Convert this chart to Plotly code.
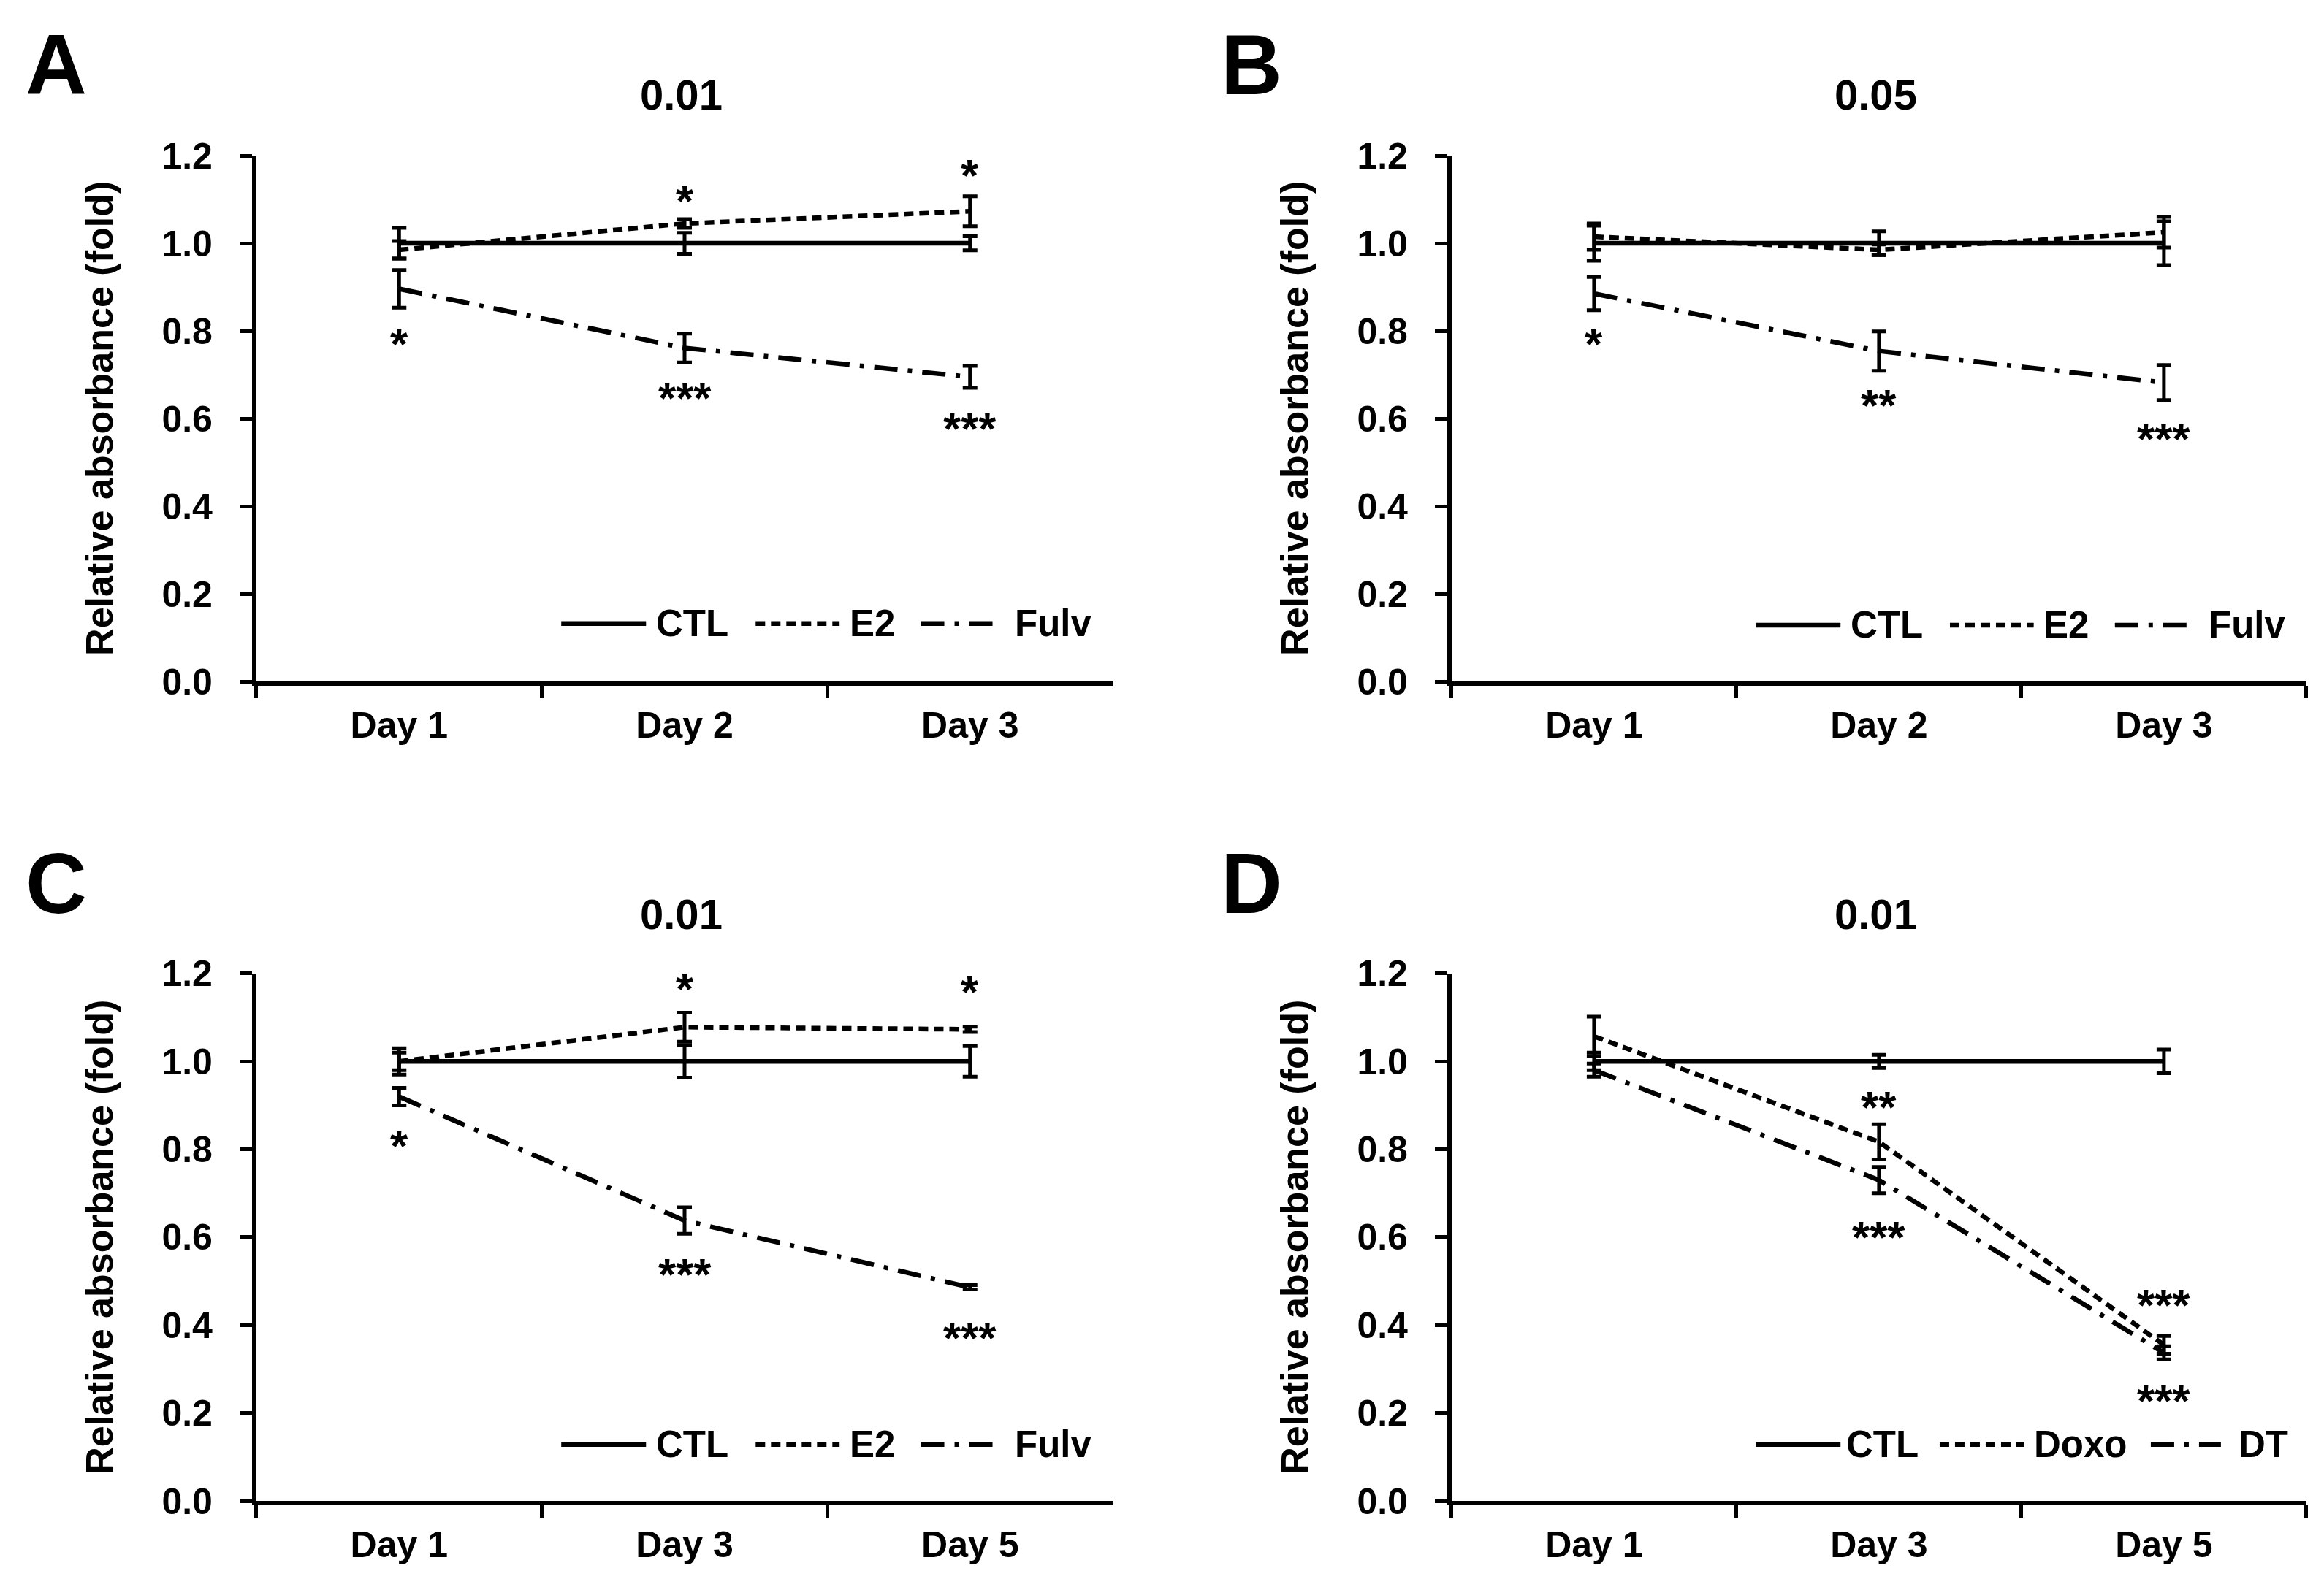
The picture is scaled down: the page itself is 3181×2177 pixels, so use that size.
import plotly.graph_objects as go

# ---------------- data ----------------
days_ab = ["Day 1", "Day 2", "Day 3"]
days_cd = ["Day 1", "Day 3", "Day 5"]

# Panel A (0.01)
a_ctl = [1.0, 1.0, 1.0]
a_ctl_err = [0.035, 0.024, 0.016]
a_e2 = [0.985, 1.045, 1.073]
a_e2_err = [0.02, 0.01, 0.034]
a_fulv = [0.896, 0.761, 0.695]
a_fulv_err = [0.043, 0.033, 0.025]
a_star_x = ["Day 2", "Day 3", "Day 1", "Day 2", "Day 3"]
a_star_y = [1.11, 1.167, 0.782, 0.66, 0.589]
a_star_t = ["*", "*", "*", "***", "***"]

# Panel B (0.05)
b_ctl = [1.0, 1.0, 1.0]
b_ctl_err = [0.04, 0.027, 0.05]
b_e2 = [1.015, 0.985, 1.025]
b_e2_err = [0.03, 0.012, 0.035]
b_fulv = [0.885, 0.754, 0.682]
b_fulv_err = [0.038, 0.045, 0.04]
b_star_x = ["Day 1", "Day 2", "Day 3"]
b_star_y = [0.782, 0.642, 0.566]
b_star_t = ["*", "**", "***"]

# Panel C (0.01)
c_ctl = [1.0, 1.0, 1.0]
c_ctl_err = [0.03, 0.037, 0.035]
c_e2 = [1.0, 1.078, 1.073]
c_e2_err = [0.02, 0.033, 0.006]
c_fulv = [0.92, 0.638, 0.486]
c_fulv_err = [0.02, 0.03, 0.005]
c_star_x = ["Day 3", "Day 5", "Day 1", "Day 3", "Day 5"]
c_star_y = [1.177, 1.171, 0.82, 0.528, 0.383]
c_star_t = ["*", "*", "*", "***", "***"]

# Panel D (0.01)
d_ctl = [1.0, 1.0, 1.0]
d_ctl_err = [0.02, 0.015, 0.027]
d_doxo = [1.057, 0.817, 0.355]
d_doxo_err = [0.045, 0.04, 0.02]
d_dt = [0.98, 0.73, 0.337]
d_dt_err = [0.015, 0.03, 0.015]
d_star_x = ["Day 3", "Day 3", "Day 5", "Day 5"]
d_star_y = [0.908, 0.612, 0.458, 0.240]
d_star_t = ["**", "***", "***", "***"]

panel_titles = ["0.01", "0.05", "0.01", "0.01"]
panel_letters = ["A", "B", "C", "D"]
y_ticks = [0.0, 0.2, 0.4, 0.6, 0.8, 1.0, 1.2]
y_title = "Relative absorbance (fold)"

# ---------------- styling ----------------
FONT = "Liberation Sans, Arial, sans-serif"
W, H = 3181, 2177
DASH_SOLID = "solid"
DASH_E2 = "13px,8px"
DASH_FULV = "32px,14px,6px,14px"
LW = 6.5

x_domains = [[0.1078, 0.4763], [0.6221, 0.9899], [0.1078, 0.4763], [0.6221, 0.9899]]
y_domains = [[0.5751, 0.9058], [0.5751, 0.9058], [0.0597, 0.3914], [0.0597, 0.3914]]
letter_x_off = -0.0860
ytitle_x_off = -0.0676
letter_y = [0.9630, 0.9630, 0.4480, 0.4480]
title_y = [0.9440, 0.9440, 0.4290, 0.4290]

# legend layout (fractions of each plot's domain): line start, line end, text start
legend_pos_abc = [(0.356, 0.455, 0.465), (0.583, 0.681, 0.691), (0.776, 0.860, 0.884)]
legend_pos_d = [(0.356, 0.455, 0.460), (0.571, 0.670, 0.680), (0.818, 0.900, 0.919)]
legend_y = [0.110, 0.107, 0.107, 0.107]

fig = go.Figure()

panels = [
    (days_ab, [("CTL", a_ctl, a_ctl_err, DASH_SOLID), ("E2", a_e2, a_e2_err, DASH_E2),
               ("Fulv", a_fulv, a_fulv_err, DASH_FULV)], a_star_x, a_star_y, a_star_t),
    (days_ab, [("CTL", b_ctl, b_ctl_err, DASH_SOLID), ("E2", b_e2, b_e2_err, DASH_E2),
               ("Fulv", b_fulv, b_fulv_err, DASH_FULV)], b_star_x, b_star_y, b_star_t),
    (days_cd, [("CTL", c_ctl, c_ctl_err, DASH_SOLID), ("E2", c_e2, c_e2_err, DASH_E2),
               ("Fulv", c_fulv, c_fulv_err, DASH_FULV)], c_star_x, c_star_y, c_star_t),
    (days_cd, [("CTL", d_ctl, d_ctl_err, DASH_SOLID), ("Doxo", d_doxo, d_doxo_err, DASH_E2),
               ("DT", d_dt, d_dt_err, DASH_FULV)], d_star_x, d_star_y, d_star_t),
]

annotations = []
shapes = []
layout_axes = {}
for i, (days, series, sx, sy, st) in enumerate(panels):
    n = i + 1
    xa = "x" if n == 1 else f"x{n}"
    ya = "y" if n == 1 else f"y{n}"
    lpos = legend_pos_d if n == 4 else legend_pos_abc
    for (name, vals, errs, dash), (l0, l1, t0) in zip(series, lpos):
        fig.add_trace(go.Scatter(
            x=days, y=vals, name=name, mode="lines",
            line=dict(color="black", width=LW, dash=dash),
            error_y=dict(type="data", array=errs, visible=True, color="black",
                         thickness=5, width=10),
            xaxis=xa, yaxis=ya, showlegend=False,
        ))
        # legend key drawn inside the plot (bottom right)
        shapes.append(dict(type="line", xref=f"{xa} domain", yref=f"{ya} domain",
                           x0=l0, x1=l1, y0=legend_y[i], y1=legend_y[i],
                           line=dict(color="black", width=LW, dash=dash)))
        annotations.append(dict(x=t0, y=legend_y[i], xref=f"{xa} domain", yref=f"{ya} domain",
                                text=name, showarrow=False, xanchor="left", yanchor="middle",
                                font=dict(family=FONT, size=51, color="black", weight="bold")))
    for xx, yy, tt in zip(sx, sy, st):
        annotations.append(dict(x=xx, y=yy, xref=xa, yref=ya, text=tt, showarrow=False,
                                yshift=-7, font=dict(family=FONT, size=62, color="black",
                                                     weight="bold")))
    xd, yd = x_domains[i], y_domains[i]
    layout_axes["xaxis" if n == 1 else f"xaxis{n}"] = dict(
        domain=xd, anchor=ya, type="category", categoryarray=days, range=[-0.5, 2.5],
        tickson="boundaries", ticks="outside", ticklen=17, tickwidth=5, tickcolor="black",
        showline=True, linewidth=6, linecolor="black", showgrid=False, zeroline=False,
        tickfont=dict(family=FONT, size=50, color="black", weight="bold"),
        ticklabelstandoff=11, fixedrange=True, automargin=False,
    )
    layout_axes["yaxis" if n == 1 else f"yaxis{n}"] = dict(
        domain=yd, anchor=xa, range=[0, 1.2], tickvals=y_ticks, tickformat=".1f",
        ticks="outside", ticklen=17, tickwidth=5, tickcolor="black",
        showline=True, linewidth=6, linecolor="black", showgrid=False, zeroline=False,
        tickfont=dict(family=FONT, size=50, color="black", weight="bold"),
        ticklabelstandoff=27, fixedrange=True, automargin=False,
    )
    # panel title
    annotations.append(dict(x=(xd[0] + xd[1]) / 2 - 0.0015, y=title_y[i], xref="paper", yref="paper",
                            text=panel_titles[i], showarrow=False, xanchor="center",
                            yanchor="middle",
                            font=dict(family=FONT, size=58, color="black", weight="bold")))
    # panel letter
    annotations.append(dict(x=xd[0] + letter_x_off, y=letter_y[i], xref="paper", yref="paper",
                            text=panel_letters[i], showarrow=False, xanchor="center",
                            yanchor="middle",
                            font=dict(family=FONT, size=116, color="black", weight="bold")))
    # y axis title
    annotations.append(dict(x=xd[0] + ytitle_x_off, y=(yd[0] + yd[1]) / 2, xref="paper",
                            yref="paper", text=y_title, textangle=-90, showarrow=False,
                            xanchor="center", yanchor="middle",
                            font=dict(family=FONT, size=52, color="black", weight="bold")))

fig.update_layout(
    template="none",
    width=W, height=H, margin=dict(l=0, r=0, t=0, b=0, pad=0),
    paper_bgcolor="white", plot_bgcolor="white", showlegend=False,
    annotations=annotations, shapes=shapes, **layout_axes,
)

fig.write_html("out.html")
